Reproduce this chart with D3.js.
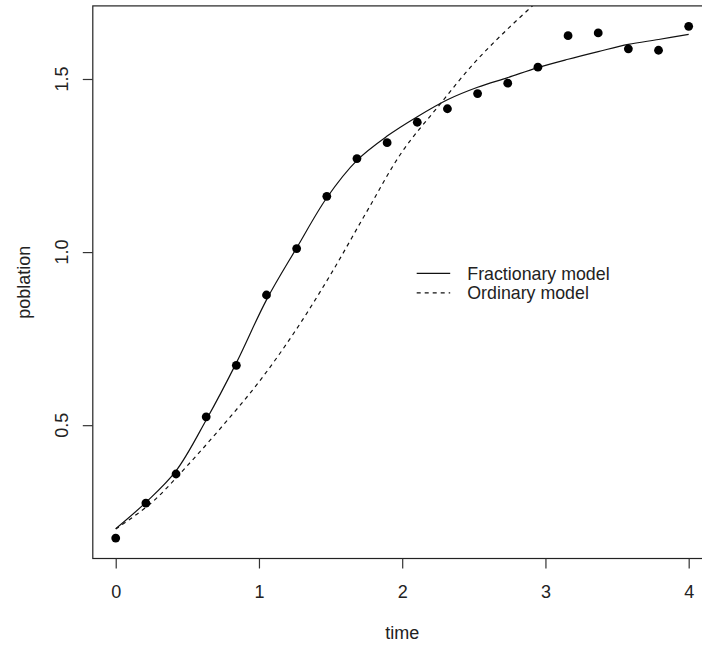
<!DOCTYPE html>
<html>
<head>
<meta charset="utf-8">
<script src="https://cdn.jsdelivr.net/npm/d3@7"></script>
<style>
  body { margin: 0; background: #fff; }
  svg { display: block; font-family: "Liberation Sans", Arial, sans-serif; }
</style>
</head>
<body>
<svg id="chart"></svg>
<script>
// observed points
const timeValues = [0, 0.2105, 0.4211, 0.6316, 0.8421, 1.0526, 1.2632, 1.4737, 1.6842, 1.8947,
                    2.1053, 2.3158, 2.5263, 2.7368, 2.9474, 3.1579, 3.3684, 3.5789, 3.7895, 4];
const poblationValues = [0.174, 0.275, 0.359, 0.524, 0.673, 0.876, 1.010, 1.161, 1.270, 1.316,
                         1.375, 1.414, 1.458, 1.488, 1.534, 1.625, 1.633, 1.587, 1.583, 1.652];

// fractionary model (solid)
const fracTime = [0, 0.2105, 0.4211, 0.6316, 0.8421, 1.0526, 1.2632, 1.4737, 1.6842, 1.8947,
                  2.1053, 2.3158, 2.5263, 2.7368, 2.9474, 3.1579, 3.3684, 3.5789, 3.7895, 4];
const fracValues = [0.201, 0.277, 0.368, 0.515, 0.680, 0.862, 1.012, 1.157, 1.265, 1.335,
                    1.391, 1.440, 1.476, 1.504, 1.533, 1.557, 1.579, 1.600, 1.614, 1.629];

// ordinary model (dashed)
const ordTime = [0, 0.25, 0.5, 0.75, 1.0, 1.25, 1.5, 1.75, 2.0, 2.25, 2.5, 2.75, 3.0];
const ordValues = [0.200, 0.276, 0.383, 0.500, 0.625, 0.770, 0.935, 1.115, 1.290, 1.420, 1.545, 1.650, 1.745];

const xTicks = [0, 1, 2, 3, 4];
const yTicks = [0.5, 1.0, 1.5];

const legendLabels = ["Fractionary model", "Ordinary model"];
const legendDash = [null, "4,4"];

const w = 702, h = 647;
const plotLeft = 92.8, plotRight = 711.6, plotTop = 5.9, plotBottom = 558.5;

const svg = d3.select("#chart").attr("width", w).attr("height", h);

// R style 4% expansion
const xExt = d3.extent(timeValues), yExt = d3.extent(poblationValues);
const xPad = (xExt[1] - xExt[0]) * 0.04, yPad = (yExt[1] - yExt[0]) * 0.04;
const x = d3.scaleLinear().domain([xExt[0] - xPad, xExt[1] + xPad]).range([plotLeft, plotRight]);
const y = d3.scaleLinear().domain([yExt[0] - yPad, yExt[1] + yPad]).range([plotBottom, plotTop]);

svg.append("clipPath").attr("id", "plotclip")
   .append("rect").attr("x", plotLeft).attr("y", plotTop)
   .attr("width", plotRight - plotLeft).attr("height", plotBottom - plotTop);

const plot = svg.append("g").attr("clip-path", "url(#plotclip)");

const line = d3.line().x(d => x(d[0])).y(d => y(d[1])).curve(d3.curveCatmullRom.alpha(0.5));

plot.append("path")
    .datum(d3.zip(fracTime, fracValues))
    .attr("d", line)
    .attr("fill", "none")
    .attr("stroke", "#111")
    .attr("stroke-width", 1.2);

plot.append("path")
    .datum(d3.zip(ordTime, ordValues))
    .attr("d", line)
    .attr("fill", "none")
    .attr("stroke", "#111")
    .attr("stroke-width", 1.2)
    .attr("stroke-dasharray", "4,4");

plot.selectAll("circle")
    .data(d3.zip(timeValues, poblationValues))
    .enter()
    .append("circle")
    .attr("cx", d => x(d[0]))
    .attr("cy", d => y(d[1]))
    .attr("r", 4.4)
    .attr("fill", "#000");

// box
svg.append("rect")
   .attr("x", plotLeft).attr("y", plotTop)
   .attr("width", plotRight - plotLeft).attr("height", plotBottom - plotTop)
   .attr("fill", "none").attr("stroke", "#222").attr("stroke-width", 1.2);

// axes
const xAxis = svg.append("g")
   .attr("transform", `translate(0, ${plotBottom})`)
   .call(d3.axisBottom(x).tickValues(xTicks).tickSize(10).tickPadding(17).tickFormat(d3.format("d")));
xAxis.select(".domain").remove();

const yAxis = svg.append("g")
   .attr("transform", `translate(${plotLeft}, 0)`)
   .call(d3.axisLeft(y).tickValues(yTicks).tickSize(10).tickFormat(""));
yAxis.select(".domain").remove();

svg.selectAll("g.tick line").attr("stroke", "#333").attr("stroke-width", 1.2);
xAxis.selectAll("text").attr("font-size", 18).attr("fill", "#222")
     .attr("font-family", "Liberation Sans, Arial, sans-serif");

svg.selectAll(".ylab")
   .data(yTicks)
   .enter()
   .append("text")
   .attr("class", "ylab")
   .attr("transform", d => `translate(68, ${y(d)}) rotate(-90)`)
   .attr("text-anchor", "middle")
   .attr("font-size", 18)
   .attr("fill", "#222")
   .text(d => d3.format(".1f")(d));

// axis titles
svg.append("text")
   .attr("x", (plotLeft + plotRight) / 2).attr("y", 639)
   .attr("text-anchor", "middle").attr("font-size", 18).attr("fill", "#222")
   .text("time");

svg.append("text")
   .attr("transform", `translate(29.5, ${(plotTop + plotBottom) / 2}) rotate(-90)`)
   .attr("text-anchor", "middle").attr("font-size", 18).attr("fill", "#222")
   .text("poblation");

// legend
const legend = svg.append("g").attr("transform", "translate(416.7, 273.3)");
legendLabels.forEach((lab, i) => {
  legend.append("line")
    .attr("x1", 0).attr("x2", 33.5)
    .attr("y1", i * 19.5).attr("y2", i * 19.5)
    .attr("stroke", "#111").attr("stroke-width", 1.2)
    .attr("stroke-dasharray", legendDash[i]);
  legend.append("text")
    .attr("x", 50.6).attr("y", i * 19.5 + 6.3)
    .attr("font-size", 17.8).attr("fill", "#222")
    .text(lab);
});
</script>
</body>
</html>
